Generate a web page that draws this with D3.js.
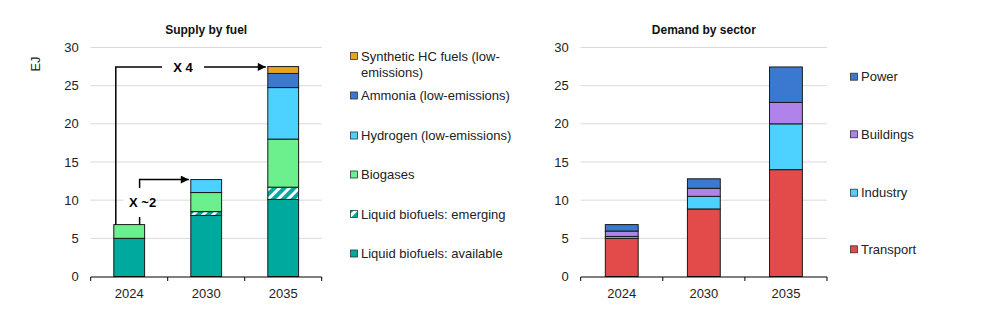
<!DOCTYPE html>
<html>
<head>
<meta charset="utf-8">
<script src="https://cdn.jsdelivr.net/npm/d3@7"></script>
<style>
  html, body { margin: 0; padding: 0; background: #fff; }
  svg { display: block; font-family: "Liberation Sans", Arial, sans-serif; }
</style>
</head>
<body>
<svg id="chart" width="1008" height="324"></svg>
<script>
// ---- Data ----
const years = ["2024", "2030", "2035"];
const yTicks = [0, 5, 10, 15, 20, 25, 30];

const supplySeries = ["Liquid biofuels: available", "Liquid biofuels: emerging", "Biogases",
  "Hydrogen (low-emissions)", "Ammonia (low-emissions)", "Synthetic HC fuels (low-emissions)"];
const liquidAvailable = [5.0, 8.0, 10.1];
const liquidEmerging = [0, 0.5, 1.6];
const biogases = [1.8, 2.5, 6.3];
const hydrogen = [0, 1.7, 6.75];
const ammonia = [0, 0, 1.85];
const syntheticHC = [0, 0, 0.9];

const demandSeries = ["Transport", "Industry", "Buildings", "Power"];
const transport = [5.0, 8.85, 14.0];
const industry = [0.25, 1.65, 6.0];
const buildings = [0.7, 1.05, 2.8];
const power = [0.85, 1.25, 4.65];

const growthLabels = ["X ~2", "X 4"];

// ---- Styles ----
const supplyColors = ["#00a99d", "url(#stripe)", "#6bf08d", "#4dd2ff", "#3b78cf", "#e8a420"];
const demandColors = ["#e34a4a", "#4dd2ff", "#b083ea", "#3b78cf"];

const svg = d3.select("#chart");
const defs = svg.append("defs");
const pat = defs.append("pattern").attr("id", "stripe").attr("patternUnits", "userSpaceOnUse")
  .attr("width", 7).attr("height", 7).attr("patternTransform", "rotate(45)");
pat.append("rect").attr("width", 7).attr("height", 7).attr("fill", "#00a99d");
pat.append("rect").attr("width", 3).attr("height", 7).attr("fill", "#ffffff");

function drawChart(opts) {
  const { x0, x1, title, seriesNames, seriesValues, colors } = opts;
  const y = d3.scaleLinear().domain([0, 30]).range([276.5, 47.5]);
  const x = d3.scaleBand().domain(years).range([x0, x1]).padding(0);
  const g = svg.append("g");

  // gridlines
  g.selectAll("line.grid").data(yTicks.filter(d => d > 0)).enter().append("line")
    .attr("x1", x0).attr("x2", x1).attr("y1", d => y(d)).attr("y2", d => y(d))
    .attr("stroke", "#d9d9d9").attr("stroke-width", 1);

  // y tick labels
  g.selectAll("text.ytick").data(yTicks).enter().append("text")
    .attr("x", x0 - 12).attr("y", d => y(d)).attr("dy", "0.35em")
    .attr("text-anchor", "end").attr("font-size", 13).attr("fill", "#222")
    .text(d => d);

  // stacks
  const table = years.map((yr, i) => {
    const o = { year: yr };
    seriesNames.forEach((s, j) => o[s] = seriesValues[j][i]);
    return o;
  });
  const stacked = d3.stack().keys(seriesNames)(table);
  const bw = x.bandwidth() * 0.4;
  stacked.forEach((layer, j) => {
    g.selectAll(null).data(layer.filter(d => d[1] - d[0] > 0)).enter().append("rect")
      .attr("x", d => x(d.data.year) + (x.bandwidth() - bw) / 2)
      .attr("width", bw)
      .attr("y", d => y(d[1]))
      .attr("height", d => y(d[0]) - y(d[1]))
      .attr("fill", colors[j])
      .attr("stroke", "#1a1a1a").attr("stroke-width", 1);
  });

  // x axis
  const axis = d3.axisBottom(x).tickSize(0).tickPadding(12);
  const ag = g.append("g").attr("transform", `translate(0,${y(0) + 0.5})`).call(axis);
  ag.select(".domain").attr("stroke", "#000").attr("d", `M${x0},0H${x1}`);
  ag.selectAll("text").attr("font-size", 13).attr("fill", "#222")
    .attr("font-family", "Liberation Sans, Arial, sans-serif");
  const boundaries = years.map(d => x(d)).concat([x1]);
  ag.selectAll("line.bnd").data(boundaries).enter().append("line")
    .attr("x1", d => d).attr("x2", d => d).attr("y1", 0).attr("y2", 4)
    .attr("stroke", "#000");

  // title
  g.append("text").attr("x", (x0 + x1) / 2).attr("y", 34).attr("text-anchor", "middle")
    .attr("font-size", 12).attr("font-weight", "bold").attr("fill", "#111").text(title);

  return { x, y, bw, stacked };
}

// ---- Left chart ----
const L = drawChart({
  x0: 90.7, x1: 321.7, title: "Supply by fuel",
  seriesNames: supplySeries,
  seriesValues: [liquidAvailable, liquidEmerging, biogases, hydrogen, ammonia, syntheticHC],
  colors: supplyColors
});

svg.append("text").attr("transform", "translate(40,64) rotate(-90)")
  .attr("text-anchor", "middle").attr("font-size", 13).attr("fill", "#222").text("EJ");

// totals
const totals = years.map((_, i) => liquidAvailable[i] + liquidEmerging[i] + biogases[i] + hydrogen[i] + ammonia[i] + syntheticHC[i]);

defs.append("marker").attr("id", "arrow").attr("viewBox", "0 0 10 10").attr("refX", 10).attr("refY", 5)
  .attr("markerWidth", 9).attr("markerHeight", 8).attr("markerUnits", "userSpaceOnUse").attr("orient", "auto")
  .append("path").attr("d", "M0,0L10,5L0,10Z").attr("fill", "#000");

const barLeft = yr => L.x(yr) + (L.x.bandwidth() - L.bw) / 2;
const arrowG = svg.append("g");
// X 4 arrow
{
  const xs = barLeft("2024") + 2, ytop = L.y(totals[2]) + 0.3, xe = barLeft("2035") - 2;
  arrowG.append("path").attr("d", `M${xs},${L.y(totals[0])}V${ytop}H${xe}`)
    .attr("fill", "none").attr("stroke", "#000").attr("stroke-width", 1.5).attr("marker-end", "url(#arrow)");
  const cx = 183;
  arrowG.append("rect").attr("x", cx - 21).attr("y", ytop - 8).attr("width", 42).attr("height", 16).attr("fill", "#fff");
  arrowG.append("text").attr("x", cx).attr("y", ytop).attr("dy", "0.36em").attr("text-anchor", "middle")
    .attr("font-size", 13).attr("font-weight", "bold").text(growthLabels[1]);
}
// X ~2 arrow
{
  const xs = barLeft("2024") + L.bw - 5, ytop = L.y(totals[1]), xe = barLeft("2030") - 2;
  arrowG.append("path").attr("d", `M${xs},${L.y(totals[0])}V${ytop}H${xe}`)
    .attr("fill", "none").attr("stroke", "#000").attr("stroke-width", 1.5).attr("marker-end", "url(#arrow)");
  const cy = 202;
  arrowG.append("rect").attr("x", xs - 16).attr("y", cy - 14).attr("width", 32).attr("height", 29).attr("fill", "#fff");
  arrowG.append("text").attr("x", xs + 3).attr("y", cy).attr("dy", "0.36em").attr("text-anchor", "middle")
    .attr("font-size", 13).attr("font-weight", "bold").text(growthLabels[0]);
}

// left legend
const leftLegendY = [56, 95.5, 135.5, 174.5, 214, 253.5];
const legendOrder = supplySeries.map((s, i) => i).reverse();
legendOrder.forEach((si, k) => {
  const yy = leftLegendY[k];
  svg.append("rect").attr("x", 350.5).attr("y", yy - 3.5).attr("width", 7).attr("height", 7)
    .attr("fill", supplyColors[si]).attr("stroke", "#333").attr("stroke-width", 0.8);
  const t = svg.append("text").attr("x", 361).attr("y", yy).attr("dy", "0.35em")
    .attr("font-size", 13).attr("fill", "#222");
  const name = supplySeries[si];
  if (name.length > 30) {
    t.append("tspan").attr("x", 361).text("Synthetic HC fuels (low-");
    t.append("tspan").attr("x", 361).attr("dy", "1.25em").text("emissions)");
  } else {
    t.text(name);
  }
});

// ---- Right chart ----
drawChart({
  x0: 580.7, x1: 827, title: "Demand by sector",
  seriesNames: demandSeries,
  seriesValues: [transport, industry, buildings, power],
  colors: demandColors
});

const rightLegendY = [76.7, 134.3, 192.7, 249.3];
demandSeries.map((s, i) => i).reverse().forEach((si, k) => {
  const yy = rightLegendY[k];
  svg.append("rect").attr("x", 850.5).attr("y", yy - 3.5).attr("width", 7).attr("height", 7)
    .attr("fill", demandColors[si]).attr("stroke", "#333").attr("stroke-width", 0.8);
  svg.append("text").attr("x", 861).attr("y", yy).attr("dy", "0.35em")
    .attr("font-size", 13).attr("fill", "#222").text(demandSeries[si]);
});
</script>
</body>
</html>
